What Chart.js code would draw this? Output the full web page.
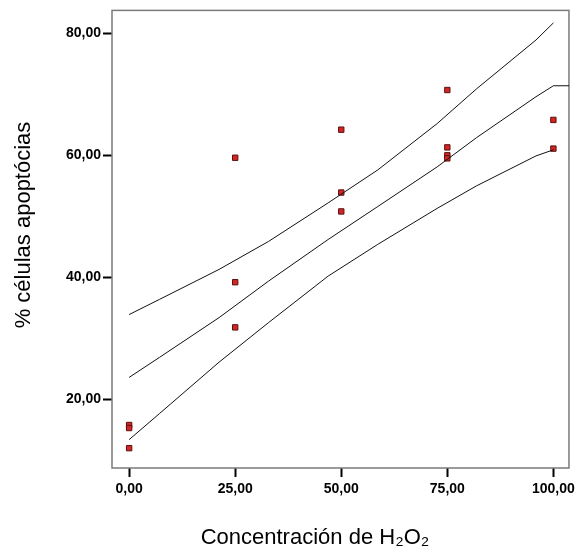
<!DOCTYPE html>
<html>
<head>
<meta charset="utf-8">
<script src="https://cdn.jsdelivr.net/npm/chart.js@4/dist/chart.umd.min.js"></script>
<style>
  html, body { margin: 0; padding: 0; background: #ffffff; }
  #wrap { width: 579px; height: 560px; position: relative; }
</style>
</head>
<body>
<div id="wrap"><canvas id="c" width="579" height="560"></canvas></div>
<script>
// ---- data ----
const doseX  = [0, 0, 0, 25, 25, 25, 50, 50, 50, 75, 75, 75, 75, 100, 100];
const apopY  = [15.8, 15.3, 12.0, 59.6, 39.2, 31.8, 64.2, 53.9, 50.8, 70.7, 61.3, 60.0, 59.5, 65.8, 61.1];

const lineX  = [0, 7.2, 21.2, 32.9, 46.9, 58.6, 72.6, 81.9, 95.9, 100, 103.7];
const fitY   = [23.6, 26.9, 33.4, 39.4, 46.2, 51.6, 58.1, 62.9, 69.6, 71.4, 71.4];
const bandX  = [0, 7.2, 21.2, 32.9, 46.9, 58.6, 72.6, 81.9, 95.9, 100];
const upperY = [33.9, 36.4, 41.3, 45.9, 52.2, 57.6, 65.2, 70.9, 78.9, 81.7];
const lowerY = [13.4, 17.7, 26.1, 32.6, 40.2, 45.4, 51.3, 55.0, 59.9, 60.9];

const xTicks = [0, 25, 50, 75, 100];
const xTickLabels = ['0,00', '25,00', '50,00', '75,00', '100,00'];
const yTicks = [20, 40, 60, 80];
const yTickLabels = ['20,00', '40,00', '60,00', '80,00'];

const xTitle = 'Concentración de H\u2082O\u2082';
const yTitle = '% células apoptócias';

const toPts = (xs, ys) => xs.map((x, i) => ({ x: x, y: ys[i] }));

const framePlugin = {
  id: 'frame',
  beforeDatasetsDraw(chart) {
    const a = chart.chartArea, ctx = chart.ctx;
    ctx.save();
    ctx.strokeStyle = '#7a7a7a';
    ctx.lineWidth = 1.5;
    ctx.strokeRect(a.left, a.top, a.right - a.left, a.bottom - a.top);
    ctx.restore();
  },
  afterDraw(chart) {
    const ctx = chart.ctx;
    ctx.save();
    ctx.fillStyle = '#000';
    ctx.font = '22px "Liberation Sans", Arial, sans-serif';
    ctx.textAlign = 'center';
    ctx.textBaseline = 'middle';
    ctx.fillText(xTitle, 315, 538);
    ctx.translate(24, 225);
    ctx.rotate(-Math.PI / 2);
    ctx.fillText(yTitle, 0, 0);
    ctx.restore();
  }
};

const lineStyle = {
  type: 'line', showLine: true, borderColor: '#111', borderWidth: 1,
  pointRadius: 0, fill: false, tension: 0
};

new Chart(document.getElementById('c'), {
  type: 'scatter',
  data: {
    datasets: [
      Object.assign({ label: 'upper', data: toPts(bandX, upperY) }, lineStyle),
      Object.assign({ label: 'fit', data: toPts(lineX, fitY) }, lineStyle),
      Object.assign({ label: 'lower', data: toPts(bandX, lowerY) }, lineStyle),
      {
        label: 'obs', data: toPts(doseX, apopY),
        pointStyle: 'rect', pointRadius: 3.8,
        backgroundColor: '#d42424', borderColor: '#5a1010', borderWidth: 1
      }
    ]
  },
  options: {
    responsive: false,
    animation: false,
    clip: false,
    layout: { padding: { left: 0, right: 6, top: 8, bottom: 0 } },
    plugins: { legend: { display: false }, tooltip: { enabled: false } },
    scales: {
      x: {
        type: 'linear', min: -4.04, max: 103.67,
        afterBuildTicks: s => { s.ticks = xTicks.map(v => ({ value: v })); },
        afterFit: s => { s.height = 92; },
        border: { display: false },
        grid: { drawOnChartArea: false, drawTicks: true, tickLength: 9, tickWidth: 2, tickColor: '#000' },
        ticks: {
          autoSkip: false, maxRotation: 0, padding: 4, color: '#000',
          font: { family: '"Liberation Sans", Arial, sans-serif', size: 14, weight: 'bold' },
          callback: (v) => xTickLabels[xTicks.indexOf(v)]
        }
      },
      y: {
        type: 'linear', min: 8.75, max: 83.75,
        afterBuildTicks: s => { s.ticks = yTicks.map(v => ({ value: v })); },
        afterFit: s => { s.width = 112; },
        border: { display: false },
        grid: { drawOnChartArea: false, drawTicks: true, tickLength: 9, tickWidth: 2, tickColor: '#000' },
        ticks: {
          autoSkip: false, padding: 2, color: '#000',
          font: { family: '"Liberation Sans", Arial, sans-serif', size: 14, weight: 'bold' },
          callback: (v) => yTickLabels[yTicks.indexOf(v)]
        }
      }
    }
  },
  plugins: [framePlugin]
});
</script>
</body>
</html>
